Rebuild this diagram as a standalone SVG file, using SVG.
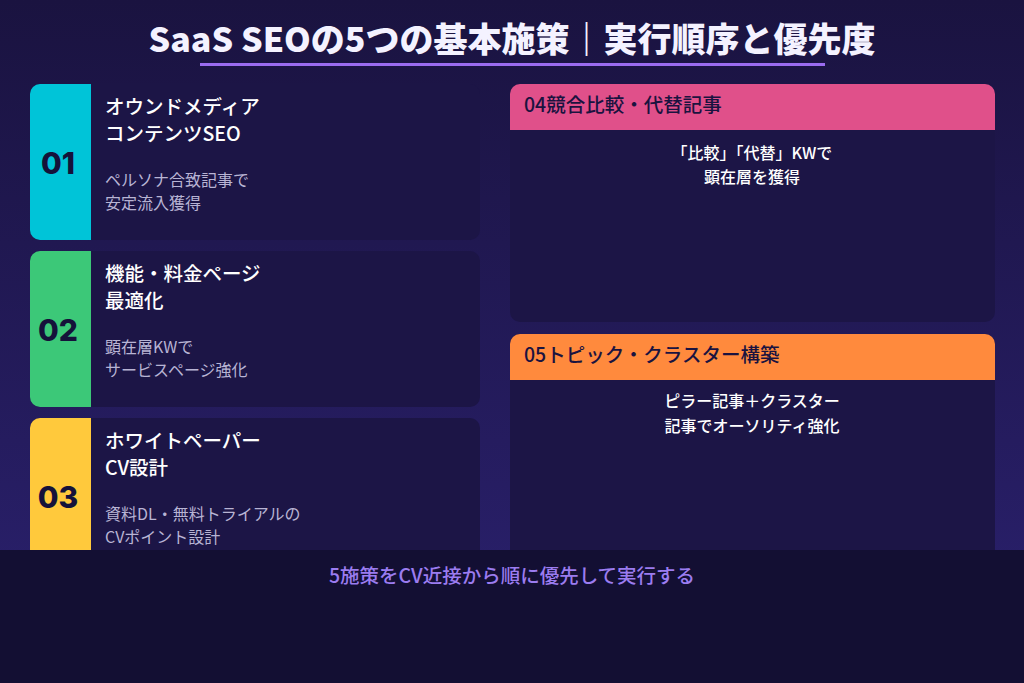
<svg xmlns="http://www.w3.org/2000/svg" width="1024" height="683" viewBox="0 0 1024 683">
<defs>
<linearGradient id="bg" x1="0" y1="0" x2="0" y2="1"><stop offset="0" stop-color="#1a1340"/><stop offset="1" stop-color="#2b2170"/></linearGradient>
<clipPath id="c1"><rect x="30" y="84" width="450" height="156" rx="10"/></clipPath>
<clipPath id="c2"><rect x="30" y="251" width="450" height="156" rx="10"/></clipPath>
<clipPath id="c3"><rect x="30" y="418" width="450" height="156" rx="10"/></clipPath>
<clipPath id="c4"><rect x="510" y="84" width="485" height="238" rx="10"/></clipPath>
<clipPath id="c5"><rect x="510" y="334" width="485" height="238" rx="10"/></clipPath>
</defs>
<style>
text{font-family:"Noto Sans CJK JP","Noto Sans",sans-serif}
.card{fill:#1c1546}
.num{font-family:Inter,"Noto Sans",sans-serif;font-weight:800;font-size:30px;fill:#15123a}
.t{font-size:19.5px;font-weight:500;fill:#ffffff}
.d{font-size:16px;fill:#b8b4d4}
.h{font-size:19.5px;font-weight:500;fill:#1a1340}
.rd{font-size:16px;font-weight:500;fill:#ffffff}
</style>
<rect width="1024" height="683" fill="url(#bg)"/>
<text x="512" y="52" text-anchor="middle" font-size="34" font-weight="800" fill="#f4f2ff">SaaS SEOの5つの基本施策｜実行順序と優先度</text>
<rect x="200" y="63" width="625" height="3" fill="#9b6cf0"/>
<g id="n1" clip-path="url(#c1)"><rect class="card" x="30" y="84" width="450" height="156"/><rect x="30" y="84" width="61" height="156" fill="#00c4d8"/>
<text class="num" x="58" y="174" text-anchor="middle">01</text>
<text class="t" x="105" y="114">オウンドメディア</text><text class="t" x="105" y="141">コンテンツSEO</text>
<text class="d" x="105" y="186">ペルソナ合致記事で</text><text class="d" x="105" y="209">安定流入獲得</text></g>
<g id="n2" clip-path="url(#c2)"><rect class="card" x="30" y="251" width="450" height="156"/><rect x="30" y="251" width="61" height="156" fill="#3cc878"/>
<text class="num" x="58" y="341" text-anchor="middle">02</text>
<text class="t" x="105" y="281">機能・料金ページ</text><text class="t" x="105" y="308">最適化</text>
<text class="d" x="105" y="353">顕在層KWで</text><text class="d" x="105" y="376">サービスページ強化</text></g>
<g id="n3" clip-path="url(#c3)"><rect class="card" x="30" y="418" width="450" height="156"/><rect x="30" y="418" width="61" height="156" fill="#ffc93c"/>
<text class="num" x="58" y="508" text-anchor="middle">03</text>
<text class="t" x="105" y="448">ホワイトペーパー</text><text class="t" x="105" y="475">CV設計</text>
<text class="d" x="105" y="520">資料DL・無料トライアルの</text><text class="d" x="105" y="543">CVポイント設計</text></g>
<g id="n4" clip-path="url(#c4)"><rect class="card" x="510" y="84" width="485" height="238"/><rect x="510" y="84" width="485" height="46" fill="#e0508a"/>
<text class="h" x="524" y="112">04競合比較・代替記事</text>
<text class="rd" x="752" y="159" text-anchor="middle">「比較」「代替」KWで</text><text class="rd" x="752" y="183" text-anchor="middle">顕在層を獲得</text></g>
<g id="n5" clip-path="url(#c5)"><rect class="card" x="510" y="334" width="485" height="238"/><rect x="510" y="334" width="485" height="46" fill="#ff8a3d"/>
<text class="h" x="524" y="362">05トピック・クラスター構築</text>
<text class="rd" x="752" y="407" text-anchor="middle">ピラー記事＋クラスター</text><text class="rd" x="752" y="432" text-anchor="middle">記事でオーソリティ強化</text></g>
<g id="connectors"/>
<rect x="0" y="550" width="1024" height="133" fill="#130f33"/>
<text x="512" y="583" text-anchor="middle" font-size="19.5" font-weight="500" fill="#9b7cf0">5施策をCV近接から順に優先して実行する</text>
</svg>
